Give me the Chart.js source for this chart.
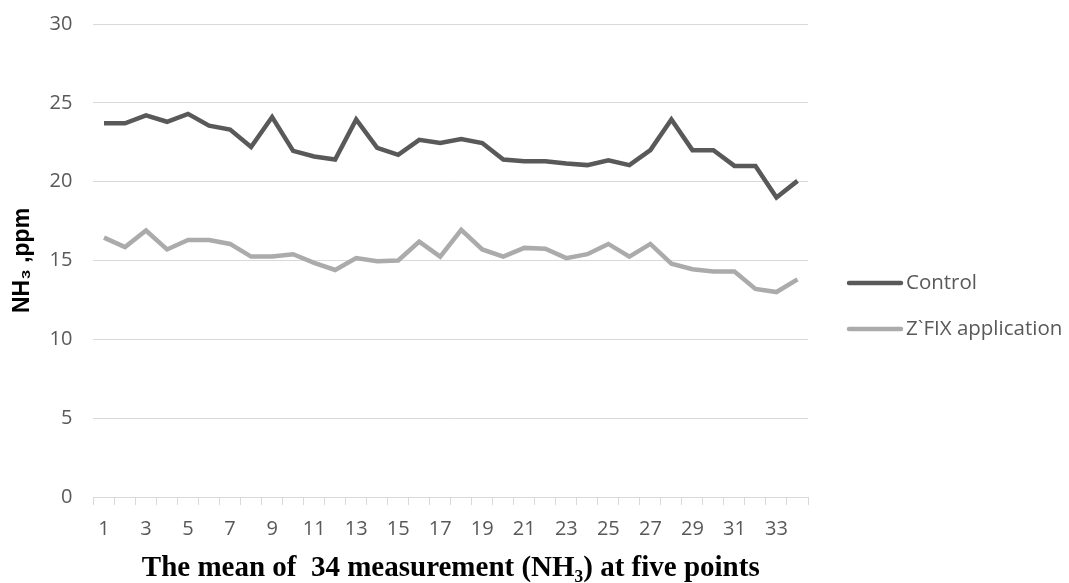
<!DOCTYPE html>
<html>
<head>
<meta charset="utf-8">
<title>NH3 chart</title>
<script src="https://cdn.jsdelivr.net/npm/chart.js@4.4.1/dist/chart.umd.min.js"></script>
<style>
  html, body { margin: 0; padding: 0; background: #ffffff; }
  #wrap { width: 1069px; height: 583px; }
</style>
</head>
<body>
<div id="wrap"><canvas id="chart" width="1069" height="583"></canvas></div>
<script>
// measurement number 1..34
const measurements = Array.from({ length: 34 }, (_, i) => String(i + 1));

const controlValues = [23.7, 23.7, 24.2, 23.8, 24.3, 23.55, 23.3, 22.2, 24.1, 21.95,
    21.6, 21.4, 23.95, 22.15, 21.7, 22.65, 22.45, 22.7, 22.45, 21.4,
    21.3, 21.3, 21.15, 21.05, 21.35, 21.05, 22.0, 23.95, 22.0, 22.0,
    21.0, 21.0, 19.0, 20.05];

const zfixValues = [16.45, 15.85, 16.9, 15.7, 16.3, 16.3, 16.05, 15.25, 15.25, 15.4,
    14.85, 14.4, 15.15, 14.95, 15.0, 16.2, 15.25, 16.95, 15.7, 15.25,
    15.8, 15.75, 15.15, 15.4, 16.05, 15.25, 16.05, 14.8, 14.45, 14.3,
    14.3, 13.2, 13.0, 13.8];

const seriesNames = ['Control', 'Z`FIX application'];

const yMin = 0;
const yMax = 30;
const yStep = 5;

const TEXT_GREY = '#595959';
const GRID_GREY = '#d9d9d9';

// legend drawn as in the original: a short thick line followed by the name
const sideLegend = {
    id: 'sideLegend',
    afterDraw(chart) {
        const ctx = chart.ctx;
        ctx.save();
        ctx.font = '20.5px "Open Sans", sans-serif';
        ctx.textBaseline = 'middle';
        chart.data.datasets.forEach((ds, i) => {
            const y = 283 + i * 46;
            ctx.strokeStyle = ds.borderColor;
            ctx.lineWidth = 4.5;
            ctx.lineCap = 'round';
            ctx.beginPath();
            ctx.moveTo(849, y);
            ctx.lineTo(901, y);
            ctx.stroke();
            ctx.fillStyle = TEXT_GREY;
            ctx.fillText(ds.label, 906, y);
        });
        ctx.restore();
    }
};

new Chart(document.getElementById('chart'), {
    type: 'line',
    data: {
        labels: measurements,
        datasets: [
            {
                label: seriesNames[0],
                data: controlValues,
                borderColor: '#595959',
                backgroundColor: '#595959',
                borderWidth: 4.5,
                pointRadius: 0,
                tension: 0
            },
            {
                label: seriesNames[1],
                data: zfixValues,
                borderColor: '#ababab',
                backgroundColor: '#ababab',
                borderWidth: 4.5,
                pointRadius: 0,
                tension: 0
            }
        ]
    },
    options: {
        responsive: false,
        animation: false,
        layout: {
            padding: { left: 0, right: 261, top: 24, bottom: 0 }
        },
        scales: {
            x: {
                offset: true,
                grid: {
                    offset: true,
                    drawOnChartArea: false,
                    drawTicks: true,
                    tickLength: 8,
                    color: GRID_GREY
                },
                border: { display: true, color: GRID_GREY, width: 1 },
                ticks: {
                    autoSkip: false,
                    maxRotation: 0,
                    padding: 12,
                    color: TEXT_GREY,
                    font: { family: '"Open Sans", sans-serif', size: 20 },
                    callback: (val, idx) => (idx % 2 === 0 ? measurements[idx] : '')
                },
                title: {
                    display: true,
                    text: 'The mean of  34 measurement (NH\u2083) at five points',
                    color: '#000000',
                    font: { family: '"Liberation Serif", "Times New Roman", serif', size: 29, weight: 'bold', lineHeight: 1 },
                    padding: { top: 1, bottom: 0 }
                }
            },
            y: {
                min: yMin,
                max: yMax,
                // the top label may hang into the layout padding
                afterFit: (scale) => { scale.paddingTop = 0; },
                grid: {
                    drawTicks: false,
                    color: GRID_GREY,
                    lineWidth: 1
                },
                border: { display: false },
                ticks: {
                    stepSize: yStep,
                    padding: 21,
                    color: TEXT_GREY,
                    font: { family: '"Open Sans", sans-serif', size: 20 }
                },
                title: {
                    display: true,
                    text: 'NH\u2083 ,ppm',
                    color: '#000000',
                    font: { family: '"Liberation Sans", Arial, sans-serif', size: 23, weight: 'bold' },
                    padding: { top: 9, bottom: -8 }
                }
            }
        },
        plugins: {
            legend: { display: false },
            tooltip: { enabled: false }
        }
    },
    plugins: [sideLegend]
});
</script>
</body>
</html>
